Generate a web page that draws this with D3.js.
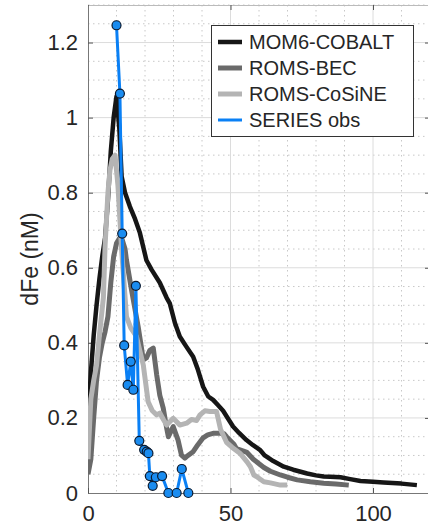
<!DOCTYPE html>
<html><head><meta charset="utf-8">
<script src="https://cdn.jsdelivr.net/npm/d3@7/dist/d3.min.js"></script>
<style>body{margin:0;background:#fff}svg{display:block}text{font-family:"Liberation Sans",Arial,sans-serif}</style>
</head><body>
<script>
// ---- data ----
const xTicks = [0, 50, 100];
const yTicks = [0, 0.2, 0.4, 0.6, 0.8, 1, 1.2];
const yTickLabels = ["0", "0.2", "0.4", "0.6", "0.8", "1", "1.2"];
const seriesNames = ["MOM6-COBALT", "ROMS-BEC", "ROMS-CoSiNE", "SERIES obs"];

const cobaltX = [0, 1, 2, 3, 4, 5, 6, 7, 8, 9, 10, 11, 11.8, 13, 14.7, 16.5, 18.2, 20.5, 22.3, 25.2, 27.6, 28.7, 30.5, 32.2, 34.5, 36.9, 38.5, 40.4, 42.2, 43.9, 45.5, 47.4, 49, 50.9, 53, 55.6, 57.8, 60.3, 62, 65, 68.7, 72, 76.9, 80, 82.7, 85, 88.6, 92, 95.6, 100, 103.7, 110, 115.4];
const cobaltY = [0.19, 0.32, 0.42, 0.5, 0.57, 0.63, 0.68, 0.78, 0.91, 1.0, 1.057, 0.97, 0.843, 0.8, 0.763, 0.73, 0.693, 0.62, 0.595, 0.56, 0.52, 0.505, 0.453, 0.417, 0.39, 0.363, 0.33, 0.283, 0.257, 0.248, 0.235, 0.219, 0.2, 0.177, 0.16, 0.141, 0.128, 0.115, 0.1, 0.085, 0.07, 0.062, 0.052, 0.047, 0.044, 0.043, 0.042, 0.037, 0.032, 0.03, 0.028, 0.025, 0.021];

const becX = [0, 1, 2, 3, 4, 5, 6, 7, 8, 9, 10, 11, 12, 13, 13.5, 15.3, 17.6, 19.4, 20.5, 21.7, 22.9, 24.1, 25.2, 26.4, 27.6, 28.2, 29.9, 31.6, 32.8, 34.0, 34.6, 36.9, 38.5, 40.4, 42, 43.9, 46.3, 47.7, 48.6, 51.2, 52.1, 55.8, 58, 61.7, 64, 67.5, 70, 73.4, 78, 82.7, 87, 91.5];
const becY = [0.05, 0.09, 0.2, 0.3, 0.36, 0.4, 0.43, 0.47, 0.56, 0.63, 0.665, 0.678, 0.675, 0.65, 0.62, 0.54, 0.443, 0.355, 0.36, 0.38, 0.386, 0.315, 0.26, 0.226, 0.173, 0.15, 0.177, 0.141, 0.101, 0.093, 0.097, 0.11, 0.128, 0.147, 0.155, 0.159, 0.159, 0.158, 0.15, 0.13, 0.118, 0.108, 0.09, 0.068, 0.058, 0.048, 0.042, 0.035, 0.03, 0.026, 0.024, 0.021];

const cosineX = [0, 1, 2, 3, 4, 5.4, 6, 7, 7.7, 8.5, 9.5, 10.5, 11.8, 13.5, 15, 17, 19.4, 21.1, 22.5, 24.1, 25.2, 26.5, 27.6, 29.9, 31.1, 32.2, 34.6, 36.3, 38.1, 39.3, 41, 42.8, 44.2, 45.1, 46.5, 48.6, 50.5, 53.3, 55.8, 57, 58.2, 59.1, 61.7, 64, 67.5, 69.9];
const cosineY = [0.09, 0.25, 0.3, 0.34, 0.42, 0.52, 0.66, 0.8, 0.86, 0.89, 0.9, 0.82, 0.648, 0.47, 0.44, 0.417, 0.341, 0.243, 0.22, 0.208, 0.213, 0.195, 0.181, 0.199, 0.19, 0.181, 0.186, 0.196, 0.193, 0.208, 0.219, 0.217, 0.217, 0.217, 0.17, 0.135, 0.122, 0.106, 0.083, 0.07, 0.048, 0.044, 0.03, 0.027, 0.021, 0.021];

const obsX = [10.0, 11.2, 12.0, 12.7, 13.9, 15.0, 15.9, 16.8, 18.0, 19.7, 20.6, 21.2, 21.7, 22.7, 23.8, 26.0, 28.2, 31.1, 32.9, 35.2];
const obsY = [1.246, 1.064, 0.691, 0.393, 0.288, 0.350, 0.275, 0.552, 0.139, 0.115, 0.110, 0.106, 0.045, 0.019, 0.042, 0.045, 0, 0, 0.064, 0];

// ---- layout ----
const W = 428, H = 530;
const L = 88, R = 430, T = 5, B = 493;
const svg = d3.select("body").append("svg").attr("width", W).attr("height", H);
const x = d3.scaleLinear().domain([0, 120]).range([L, R]);
const y = d3.scaleLinear().domain([0, 1.3]).range([B, T]);

// grid minor
const g = svg.append("g");
const xMinor = d3.range(10, 121, 10).filter(v => v % 50 !== 0);
const yMinor = d3.range(1, 27).map(i => i * 0.05).filter(v => Math.abs(v * 5 - Math.round(v * 5)) > 1e-6);
g.selectAll(".xm").data(xMinor).join("line")
  .attr("x1", d => x(d)).attr("x2", d => x(d)).attr("y1", T).attr("y2", B)
  .attr("stroke", "#c8c8c8").attr("stroke-width", 1).attr("stroke-dasharray", "1.5,3.5");
g.selectAll(".ym").data(yMinor).join("line")
  .attr("x1", L).attr("x2", R).attr("y1", d => y(d)).attr("y2", d => y(d))
  .attr("stroke", "#c8c8c8").attr("stroke-width", 1).attr("stroke-dasharray", "1.5,3.5");
// grid major
g.selectAll(".xM").data(xTicks.slice(1)).join("line")
  .attr("x1", d => x(d)).attr("x2", d => x(d)).attr("y1", T).attr("y2", B)
  .attr("stroke", "#dcdcdc").attr("stroke-width", 1);
g.selectAll(".yM").data(yTicks.slice(1)).join("line")
  .attr("x1", L).attr("x2", R).attr("y1", d => y(d)).attr("y2", d => y(d))
  .attr("stroke", "#dcdcdc").attr("stroke-width", 1);

// axes with inward ticks
const axL = d3.axisLeft(y).tickValues(yTicks).tickSizeInner(-5).tickSizeOuter(0).tickPadding(10)
  .tickFormat((d, i) => yTickLabels[i]);
const axB = d3.axisBottom(x).tickValues(xTicks).tickSizeInner(-5).tickSizeOuter(0).tickPadding(12);
const axT = d3.axisTop(x).tickValues(xTicks).tickSizeInner(-5).tickSizeOuter(0).tickFormat("");
const axR = d3.axisRight(y).tickValues(yTicks).tickSizeInner(-5).tickSizeOuter(0).tickFormat("");
function style(sel, col) {
  sel.selectAll(".domain").attr("stroke", col).attr("stroke-width", 1);
  sel.selectAll(".tick line").attr("stroke", "#555");
  sel.selectAll("text").attr("fill", "#262626").style("font-size", "22px")
    .style("font-family", '"Liberation Sans", Arial, sans-serif');
}
svg.append("g").attr("transform", `translate(0,${T})`).call(axT).call(s => style(s, "#bbb"));
svg.append("g").attr("transform", `translate(${R},0)`).call(axR).call(s => style(s, "#bbb"));
svg.append("g").attr("transform", `translate(${L},0)`).call(axL).call(s => style(s, "#777"));
svg.append("g").attr("transform", `translate(0,${B})`).call(axB).call(s => style(s, "#777"));

// y label
svg.append("text").attr("transform", `translate(38,${(T + B) / 2 + 10}) rotate(-90)`)
  .attr("text-anchor", "middle").attr("fill", "#262626").style("font-size", "23px").text("dFe (nM)");

// lines
const line = d3.line().x(d => x(d[0])).y(d => y(d[1])).curve(d3.curveLinear);
const zip = (a, b) => a.map((v, i) => [v, b[i]]);
const clip = svg.append("clipPath").attr("id", "c").append("rect")
  .attr("x", L).attr("y", T).attr("width", R - L).attr("height", B - T);
const plot = svg.append("g").attr("clip-path", "url(#c)");
const colors = ["#161616", "#6a6a6a", "#b4b4b4", "#0a80f5"];
const widths = [4.5, 5, 5, 3];
[zip(cobaltX, cobaltY), zip(becX, becY), zip(cosineX, cosineY)].forEach((data, i) => {
  plot.append("path").datum(data).attr("d", line).attr("fill", "none")
    .attr("stroke", colors[i]).attr("stroke-width", widths[i]).attr("stroke-linejoin", "round");
});
const obs = zip(obsX, obsY);
svg.append("path").datum(obs).attr("d", line).attr("fill", "none")
  .attr("stroke", colors[3]).attr("stroke-width", widths[3]).attr("stroke-linejoin", "round");
svg.selectAll(".pt").data(obs).join("circle")
  .attr("cx", d => x(d[0])).attr("cy", d => y(d[1])).attr("r", 4.5)
  .attr("fill", "#1a8cf0").attr("stroke", "#0a1a30").attr("stroke-width", 1.2);

// legend
const lg = svg.append("g");
lg.append("rect").attr("x", 211.5).attr("y", 25.5).attr("width", 202).attr("height", 111)
  .attr("fill", "#fff").attr("stroke", "#333").attr("stroke-width", 1);
seriesNames.forEach((n, i) => {
  const yy = 42 + i * 26;
  lg.append("line").attr("x1", 218).attr("x2", 242).attr("y1", yy).attr("y2", yy)
    .attr("stroke", colors[i]).attr("stroke-width", widths[i]);
  lg.append("text").attr("x", 249).attr("y", yy + 7).attr("fill", "#262626")
    .style("font-size", "20px").text(n);
});
</script>
</body></html>
